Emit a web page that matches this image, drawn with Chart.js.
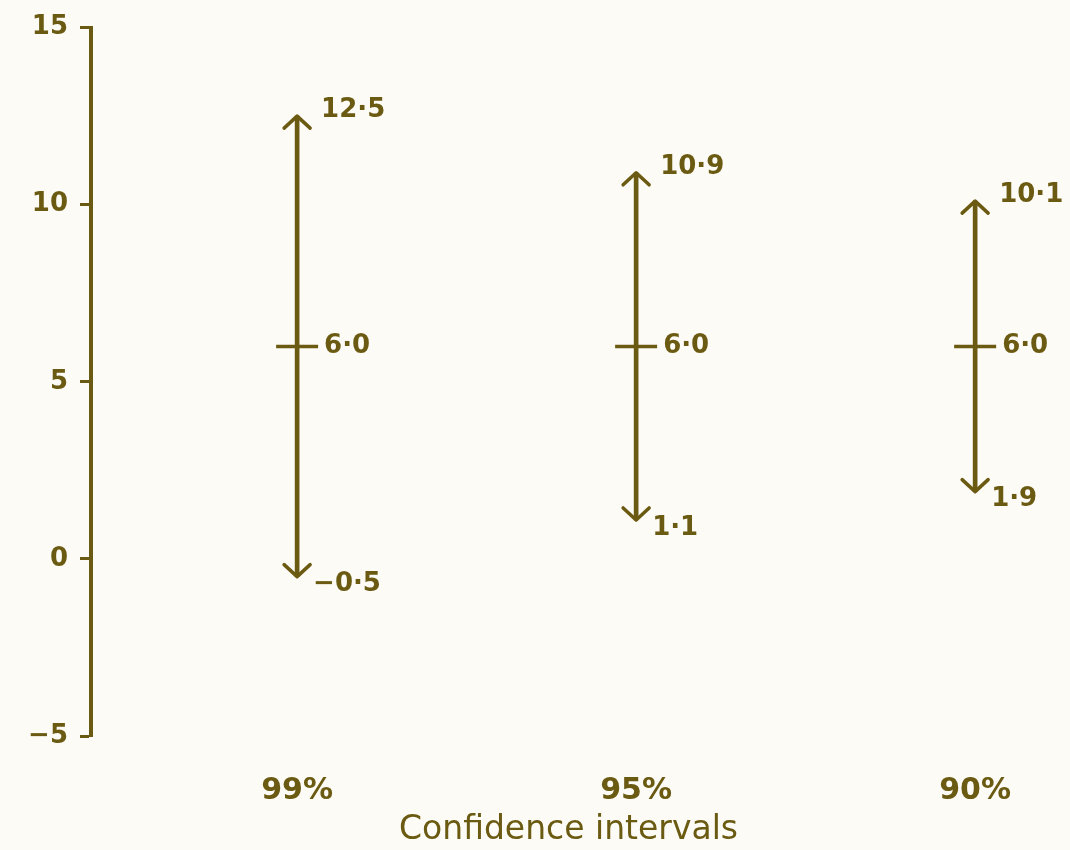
<!DOCTYPE html>
<html>
<head>
<meta charset="utf-8">
<script src="https://cdn.jsdelivr.net/npm/chart.js@4"></script>
<style>
  body { margin: 0; background: #fcfbf5; }
  #wrap { width: 1070px; height: 850px; }
</style>
</head>
<body>
<div id="wrap"><canvas id="myChart"></canvas></div>
<script>
// data
const categories = ["99%", "95%", "90%"];
const lower = [-0.5, 1.1, 1.9];
const upper = [12.5, 10.9, 10.1];
const mean = [6.0, 6.0, 6.0];
const yTicks = [-5, 0, 5, 10, 15];

const ink = "#6b5a12";

// number like 12·5 or −0·5
function fmt(v) {
  return (v < 0 ? "\u2212" : "") + Math.abs(v).toFixed(1).replace(".", "\u00b7");
}

// arrow heads + value labels
const arrowPlugin = {
  id: "arrows",
  afterDatasetsDraw(chart) {
    const ctx = chart.ctx;
    const xs = chart.scales.x, ys = chart.scales.y;
    ctx.save();
    ctx.strokeStyle = ink;
    ctx.fillStyle = ink;
    ctx.lineWidth = 3.5;
    ctx.lineCap = "round";
    ctx.lineJoin = "round";
    ctx.font = "bold 26px 'DejaVu Sans'";
    ctx.textBaseline = "middle";
    ctx.textAlign = "left";
    categories.forEach((c, i) => {
      const x = xs.getPixelForValue(i + 1);
      const yTop = ys.getPixelForValue(upper[i]);
      const yBot = ys.getPixelForValue(lower[i]);
      const yMid = ys.getPixelForValue(mean[i]);
      // up arrow
      ctx.beginPath();
      ctx.moveTo(x - 13, yTop + 12);
      ctx.lineTo(x, yTop);
      ctx.lineTo(x + 13, yTop + 12);
      ctx.stroke();
      // down arrow
      ctx.beginPath();
      ctx.moveTo(x - 13, yBot - 12);
      ctx.lineTo(x, yBot);
      ctx.lineTo(x + 13, yBot - 12);
      ctx.stroke();
      ctx.fillText(fmt(upper[i]), x + 24, yTop - 6);
      ctx.fillText(fmt(mean[i]), x + 27, yMid);
      ctx.fillText(fmt(lower[i]), x + 16, yBot + 8);
    });
    ctx.restore();
  }
};

const ctx = document.getElementById("myChart").getContext("2d");
new Chart(ctx, {
  type: "bar",
  data: {
    datasets: [
      {
        type: "bar",
        data: categories.map((c, i) => ({ x: i + 1, y: [lower[i], upper[i]] })),
        backgroundColor: ink,
        borderWidth: 0,
        barThickness: 4,
        borderSkipped: false
      },
      {
        type: "scatter",
        data: categories.map((c, i) => ({ x: i + 1, y: mean[i] })),
        pointStyle: "line",
        pointRadius: 21,
        borderColor: ink,
        borderWidth: 3.5
      }
    ]
  },
  plugins: [arrowPlugin],
  options: {
    responsive: true,
    maintainAspectRatio: false,
    animation: false,
    layout: { autoPadding: false, padding: { top: 20, left: 0, right: 24, bottom: 0 } },
    plugins: { legend: { display: false }, tooltip: { enabled: false } },
    scales: {
      x: {
        type: "linear",
        offset: false,
        min: 0.392,
        max: 3.209,
        afterBuildTicks: s => { s.ticks = categories.map((c, i) => ({ value: i + 1 })); },
        afterFit: s => { s.height = 114; },
        grid: { display: false, drawTicks: false },
        border: { display: false },
        ticks: {
          padding: 37,
          color: ink,
          font: { family: "DejaVu Sans", size: 30, weight: "bold" },
          callback: v => categories[v - 1]
        },
        title: {
          display: true,
          text: "Confidence intervals",
          color: ink,
          font: { family: "DejaVu Sans", size: 33 },
          padding: { top: 4, bottom: 0 }
        }
      },
      y: {
        min: -5,
        max: 15,
        afterBuildTicks: s => { s.ticks = yTicks.map(v => ({ value: v })); },
        afterFit: s => { s.width = 91; },
        grid: { drawOnChartArea: false, drawTicks: true, tickLength: 11, tickWidth: 3, color: ink },
        border: { display: true, color: ink, width: 4 },
        ticks: {
          padding: 12,
          color: ink,
          font: { family: "DejaVu Sans", size: 26, weight: "bold" },
          callback: v => (v < 0 ? "\u2212" : "") + Math.abs(v)
        }
      }
    }
  }
});
</script>
</body>
</html>
